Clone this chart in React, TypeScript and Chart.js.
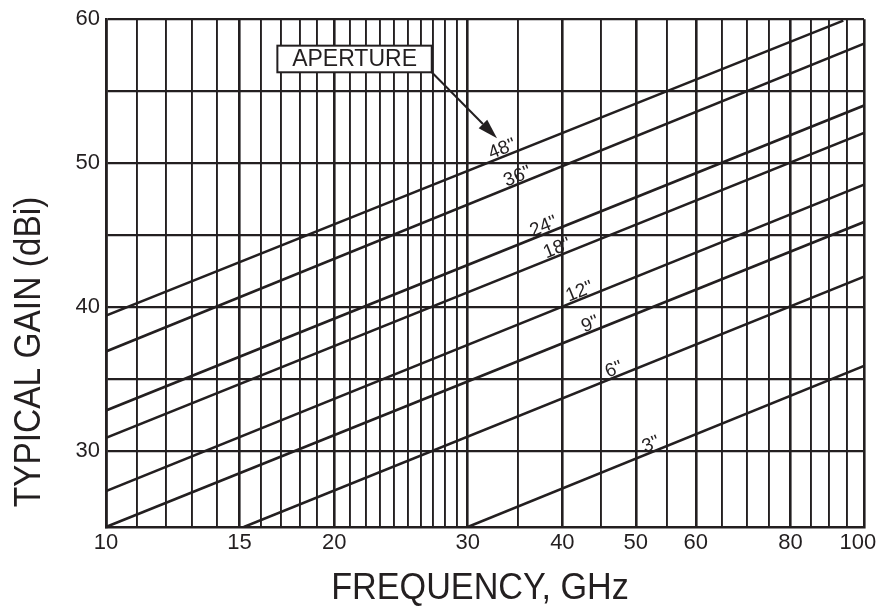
import React, { useEffect, useRef } from 'react';
import { Chart, registerables } from 'chart.js';

Chart.register(...registerables);

// ---- data ----
const apertures = ['48"', '36"', '24"', '18"', '12"', '9"', '6"', '3"'];
const startFreq = [10, 10, 10, 10, 10, 10, 15.2, 30];
const startGain = [39.4, 36.9, 32.8, 30.9, 27.2, 24.7, 24.7, 24.7];
const endFreq = [93.9, 100, 100, 100, 100, 100, 100, 100];
const endGain = [59.9, 58.3, 54.0, 52.1, 48.5, 45.9, 42.1, 35.9];
const labelFreq = [33.6, 35.2, 38.1, 39.7, 42.5, 43.9, 47.2, 52.8];

const xGrid = [10, 11, 12, 13, 14, 15, 16, 17, 18, 19, 20, 21, 22, 23, 24, 25, 26, 27, 28, 29, 30,
  35, 40, 45, 50, 55, 60, 65, 70, 75, 80, 85, 90, 95, 100];
const xLabels = [10, 15, 20, 30, 40, 50, 60, 80, 100];
const yGrid = [30, 35, 40, 45, 50, 55, 60];
const yLabels = [30, 40, 50, 60];

const xTitle = 'FREQUENCY, GHz';
const yTitle = 'TYPICAL GAIN (dBi)';
const calloutText = 'APERTURE';

const INK = '#231f20';
const FONT = '"Liberation Sans", Arial, Helvetica, sans-serif';

const annotations = {
  id: 'annotations',
  afterDatasetsDraw(chart: any) {
    const ctx = chart.ctx;
    const xs = chart.scales.x;
    const ys = chart.scales.y;
    ctx.save();
    ctx.fillStyle = INK;
    ctx.strokeStyle = INK;

    // line labels
    ctx.font = `19px ${FONT}`;
    ctx.textAlign = 'center';
    ctx.textBaseline = 'alphabetic';
    apertures.forEach((lab, i) => {
      const meta = chart.getDatasetMeta(i);
      const p0 = meta.data[0];
      const p1 = meta.data[meta.data.length - 1];
      const ang = Math.atan2(p1.y - p0.y, p1.x - p0.x);
      const x = xs.getPixelForValue(labelFreq[i]);
      const t = (x - p0.x) / (p1.x - p0.x);
      const y = p0.y + t * (p1.y - p0.y);
      ctx.save();
      ctx.translate(x, y);
      ctx.rotate(ang);
      ctx.fillText(lab, 0, -2);
      ctx.restore();
    });

    // APERTURE callout box
    const bx0 = xs.getPixelForValue(16.83);
    const bx1 = xs.getPixelForValue(26.9);
    const by0 = ys.getPixelForValue(58.16);
    const by1 = ys.getPixelForValue(56.31);
    ctx.fillStyle = '#ffffff';
    ctx.fillRect(bx0, by0, bx1 - bx0, by1 - by0);
    ctx.lineWidth = 2;
    ctx.strokeRect(bx0, by0, bx1 - bx0, by1 - by0);
    ctx.fillStyle = INK;
    ctx.font = `23px ${FONT}`;
    ctx.textAlign = 'center';
    ctx.textBaseline = 'middle';
    ctx.fillText(calloutText, (bx0 + bx1) / 2, (by0 + by1) / 2 + 1);

    // arrow
    const tx = xs.getPixelForValue(32.8);
    const ty = ys.getPixelForValue(51.73);
    const a = Math.atan2(ty - by1, tx - bx1);
    const headLen = 20;
    const headHalf = 6;
    const bxh = tx - headLen * Math.cos(a);
    const byh = ty - headLen * Math.sin(a);
    ctx.lineWidth = 2;
    ctx.beginPath();
    ctx.moveTo(bx1, by1);
    ctx.lineTo(bxh, byh);
    ctx.stroke();
    ctx.beginPath();
    ctx.moveTo(tx, ty);
    ctx.lineTo(bxh + headHalf * Math.sin(a), byh - headHalf * Math.cos(a));
    ctx.lineTo(bxh - headHalf * Math.sin(a), byh + headHalf * Math.cos(a));
    ctx.closePath();
    ctx.fill();

    // axis titles
    ctx.font = `36px ${FONT}`;
    ctx.textAlign = 'center';
    ctx.textBaseline = 'alphabetic';
    ctx.save();
    ctx.translate(480, 599);
    ctx.scale(0.95, 1);
    ctx.fillText(xTitle, 0, 0);
    ctx.restore();

    ctx.save();
    ctx.translate(40, 352);
    ctx.rotate(-Math.PI / 2);
    ctx.scale(0.93, 1);
    ctx.fillText(yTitle, 0, 0);
    ctx.restore();

    ctx.restore();
  },
};

export default function App() {
  const ref = useRef<HTMLCanvasElement | null>(null);

  useEffect(() => {
    if (!ref.current) return;
    const datasets = apertures.map((lab, i) => ({
      label: lab,
      data: [
        { x: startFreq[i], y: startGain[i] },
        { x: endFreq[i], y: endGain[i] },
      ],
      borderColor: INK,
      borderWidth: 2.6,
      pointRadius: 0,
      tension: 0,
      fill: false,
    }));

    const chart = new Chart(ref.current, {
      type: 'line',
      data: { datasets },
      plugins: [annotations],
      options: {
        responsive: false,
        animation: false,
        events: [],
        layout: { padding: { top: 19, right: 15, left: 0, bottom: 0 } },
        plugins: {
          legend: { display: false },
          tooltip: { enabled: false },
          title: { display: false },
        },
        scales: {
          x: {
            type: 'logarithmic',
            min: 10,
            max: 100,
            afterBuildTicks: (scale: any) => {
              scale.ticks = xGrid.map((v) => ({ value: v }));
            },
            afterFit: (scale: any) => {
              scale.height = 79;
              scale.paddingLeft = 0;
              scale.paddingRight = 0;
            },
            ticks: {
              autoSkip: false,
              maxRotation: 0,
              minRotation: 0,
              padding: 3,
              color: INK,
              font: { family: FONT, size: 22 },
              callback: (value: any) => {
                const v = Number(value);
                if (!xLabels.includes(v)) return '';
                return v === 100 ? '100  ' : String(v);
              },
            },
            grid: {
              drawTicks: false,
              color: INK,
              lineWidth: (c: any) =>
                c.tick && xLabels.includes(c.tick.value) ? 2.6 : 1.9,
            },
            border: { display: true, color: INK, width: 2.6 },
          },
          y: {
            type: 'linear',
            min: 24.7,
            max: 60,
            afterBuildTicks: (scale: any) => {
              scale.ticks = yGrid.map((v) => ({ value: v }));
            },
            afterFit: (scale: any) => {
              scale.width = 106;
            },
            ticks: {
              padding: 6,
              color: INK,
              font: { family: FONT, size: 22 },
              callback: (value: any) => {
                const v = Number(value);
                return yLabels.includes(v) ? String(v) : '';
              },
            },
            grid: {
              drawTicks: false,
              color: INK,
              lineWidth: 2.2,
            },
            border: { display: true, color: INK, width: 2.6 },
          },
        },
      },
    });
    return () => chart.destroy();
  }, []);

  return (
    <div style={{ position: 'fixed', left: 0, top: 0, width: 879, height: 606, background: '#fff' }}>
      <canvas ref={ref} width={879} height={606} style={{ display: 'block' }} />
    </div>
  );
}
